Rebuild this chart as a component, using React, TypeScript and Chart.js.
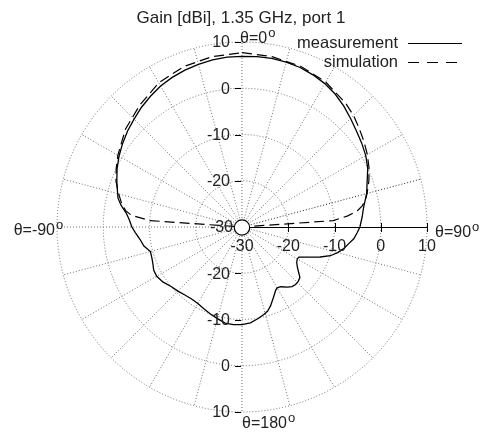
import React, { useEffect, useRef } from "react";
import { Chart, registerables } from "chart.js";

Chart.register(...registerables);

const TITLE = "Gain [dBi], 1.35 GHz, port 1";
const SERIES_NAMES = ["measurement", "simulation"];
const RADIAL_MIN = -30;
const RADIAL_MAX = 10;
const RADIAL_TICKS = [-30, -20, -10, 0, 10];
const ANGLE_LABELS = ["θ=0", "θ=90", "θ=180", "θ=-90"];

// angles in degrees (θ=0 at top, clockwise positive), gains in dBi
const measAngles = [
  0, 5, 10, 15, 20, 25, 30, 35, 40, 45, 50, 55, 60, 65, 70, 75, 78, 81, 85, 90,
  93, 96, 99, 102, 105, 108, 111, 114, 118, 120, 123, 126, 129, 131, 134, 137, 140, 143, 147, 150,
  152, 156, 160, 163, 166, 170, 175, 180,
  -175, -170, -165, -160, -155, -150, -145, -140, -135, -130, -125, -120, -116, -112, -109, -105,
  -101, -97, -93, -90, -86, -83, -80, -77, -73, -70, -65, -60, -55, -50, -45, -40, -35, -30, -25,
  -20, -15, -10, -5,
];
const measGain = [
  6.9, 7.0, 7.0, 6.9, 6.7, 6.3, 5.8, 5.1, 4.2, 3.2, 2.3, 1.6, 0.9, 0.0, -1.2, -2.1, -2.8, -3.4, -3.9, -4.5,
  -5.1, -5.7, -6.7, -7.5, -8.6, -9.9, -11.9, -14.0, -16.1, -16.2, -15.9, -15.2, -14.2, -13.4, -13.1, -13.0, -13.2, -13.7, -14.6, -14.8,
  -14.5, -13.3, -11.9, -11.0, -10.5, -9.9, -9.2, -8.9,
  -8.8, -8.9, -9.5, -10.0, -10.5, -10.9, -11.0, -10.8, -10.4, -10.0, -9.2, -8.7, -8.75, -9.2, -9.4, -9.5,
  -8.4, -7.8, -6.9, -6.2, -5.5, -4.75, -3.5, -2.5, -1.8, -1.2, -0.2, 0.7, 1.5, 2.3, 3.0, 3.8, 4.5, 5.2, 5.7,
  6.1, 6.4, 6.7, 6.85,
];

const simAngles = [
  -87, -86, -84, -82, -79, -75, -70, -65, -60, -50, -40, -30, -20, -10,
  0, 10, 20, 30, 40, 45, 50, 55, 60, 65, 70, 75, 78, 80, 82, 84, 86, 87,
];
const simGain = [
  -30, -10.0, -6.0, -4.6, -3.5, -2.4, -1.0, 0.0, 1.0, 2.9, 4.4, 6.0, 6.9, 7.4,
  7.7, 7.4, 7.0, 6.2, 4.9, 4.1, 3.1, 2.2, 1.3, 0.3, -0.8, -2.0, -2.8, -3.6, -4.8, -7.0, -10.2, -30,
];

const N_ANGLES = 360;
const angleCategories = Array.from({ length: N_ANGLES }, (_, i) => String(i));

function toSeries(angles: number[], gains: number[]) {
  const arr: (number | null)[] = new Array(N_ANGLES).fill(null);
  angles.forEach((a, i) => {
    arr[((a % 360) + 360) % 360] = gains[i];
  });
  return arr;
}

const FONT = '"Liberation Sans", Arial, Helvetica, sans-serif';
const TEXT = "#222";
const GRID = "#6e6e6e";

function supText(ctx: CanvasRenderingContext2D, text: string, x: number, y: number, align: "left" | "right") {
  ctx.font = `16px ${FONT}`;
  const w = ctx.measureText(text).width;
  const x0 = align === "left" ? x : x - w;
  ctx.textAlign = "left";
  ctx.textBaseline = "alphabetic";
  ctx.fillText(text, x0, y);
  ctx.font = `13px ${FONT}`;
  ctx.fillText("o", x0 + w + 1, y - 6.5);
}

const decorPlugin = {
  id: "decor",
  beforeDatasetsDraw(chart: any) {
    const ctx: CanvasRenderingContext2D = chart.ctx;
    const s = chart.scales.r;
    const cx = s.xCenter;
    const cy = s.yCenter;
    ctx.save();
    ctx.strokeStyle = "#000";
    ctx.lineWidth = 1;
    ctx.setLineDash([]);
    const end = s.getPointPositionForValue(90, RADIAL_MAX);
    ctx.beginPath();
    ctx.moveTo(cx, cy + 0.5);
    ctx.lineTo(end.x, cy + 0.5);
    ctx.stroke();
    RADIAL_TICKS.slice(1).forEach((v) => {
      const p = s.getPointPositionForValue(90, v);
      ctx.beginPath();
      ctx.moveTo(Math.round(p.x) + 0.5, cy - 4);
      ctx.lineTo(Math.round(p.x) + 0.5, cy + 5);
      ctx.stroke();
    });
    // vertical axis tick dashes
    RADIAL_TICKS.slice(1).forEach((v) => {
      [0, 180].forEach((idx) => {
        const p = s.getPointPositionForValue(idx, v);
        ctx.beginPath();
        ctx.moveTo(cx - 7, Math.round(p.y) + 0.5);
        ctx.lineTo(cx - 1, Math.round(p.y) + 0.5);
        ctx.stroke();
      });
    });
    ctx.restore();
  },
  afterDraw(chart: any) {
    const ctx: CanvasRenderingContext2D = chart.ctx;
    const s = chart.scales.r;
    const cx = s.xCenter;
    const cy = s.yCenter;
    const R = s.drawingArea;
    ctx.save();
    // centre hole
    ctx.setLineDash([]);
    ctx.beginPath();
    ctx.arc(cx, cy + 0.5, 7.7, 0, Math.PI * 2);
    ctx.fillStyle = "#fff";
    ctx.fill();
    ctx.strokeStyle = "#000";
    ctx.lineWidth = 1.2;
    ctx.stroke();

    ctx.fillStyle = TEXT;
    // title
    ctx.font = `17px ${FONT}`;
    ctx.textAlign = "center";
    ctx.textBaseline = "alphabetic";
    ctx.fillText(TITLE, cx - 1, 23);

    // vertical axis labels
    ctx.font = `16px ${FONT}`;
    ctx.textAlign = "right";
    ctx.textBaseline = "middle";
    RADIAL_TICKS.slice(1).forEach((v) => {
      [0, 180].forEach((idx) => {
        const p = s.getPointPositionForValue(idx, v);
        ctx.fillText(String(v), cx - 12, p.y + 1);
      });
    });
    ctx.fillText(String(RADIAL_MIN), cx - 9, cy + 1);

    // horizontal axis labels
    ctx.textAlign = "center";
    ctx.textBaseline = "alphabetic";
    RADIAL_TICKS.forEach((v) => {
      const p = s.getPointPositionForValue(90, v);
      ctx.fillText(String(v), p.x, cy + 24);
    });

    // angle labels
    supText(ctx, ANGLE_LABELS[0], cx - 2, cy - R + 1, "left");
    supText(ctx, ANGLE_LABELS[1], cx + R + 8, cy + 10, "left");
    supText(ctx, ANGLE_LABELS[2], cx, cy + R + 16, "left");
    supText(ctx, ANGLE_LABELS[3], cx - R - 2, cy + 8, "right");

    // legend
    ctx.font = `16.5px ${FONT}`;
    ctx.textAlign = "right";
    ctx.textBaseline = "alphabetic";
    ctx.fillText(SERIES_NAMES[0], 398, 48);
    ctx.fillText(SERIES_NAMES[1], 398, 66.5);
    ctx.strokeStyle = "#000";
    ctx.lineWidth = 1.2;
    ctx.beginPath();
    ctx.moveTo(408, 43.5);
    ctx.lineTo(462, 43.5);
    ctx.stroke();
    ctx.setLineDash([11, 8]);
    ctx.beginPath();
    ctx.moveTo(408, 62.5);
    ctx.lineTo(462, 62.5);
    ctx.stroke();
    ctx.restore();
  },
};

export default function App() {
  const ref = useRef<HTMLCanvasElement>(null);
  useEffect(() => {
    const chart = new Chart(ref.current as HTMLCanvasElement, {
      type: "radar",
      data: {
        labels: angleCategories,
        datasets: [
          {
            label: SERIES_NAMES[0],
            data: toSeries(measAngles, measGain),
            borderColor: "#000",
            borderWidth: 1.3,
            fill: false,
            pointRadius: 0,
            spanGaps: true,
            tension: 0,
          } as any,
          {
            label: SERIES_NAMES[1],
            data: toSeries(simAngles, simGain),
            borderColor: "#000",
            borderWidth: 1.2,
            borderDash: [10, 5],
            fill: false,
            pointRadius: 0,
            spanGaps: true,
            tension: 0,
          } as any,
        ],
      },
      options: {
        animation: false,
        responsive: false,
        layout: { padding: { left: 57, right: 60, top: 42, bottom: 21 } },
        plugins: {
          legend: { display: false },
          title: { display: false },
          tooltip: { enabled: false },
        },
        scales: {
          r: {
            min: RADIAL_MIN,
            max: RADIAL_MAX,
            ticks: { stepSize: 10, display: false },
            pointLabels: { display: false },
            grid: { circular: true, color: GRID, lineWidth: 1 },
            border: { dash: [1, 2] } as any,
            angleLines: {
              display: true,
              color: (c: any) => (c.index === 75 ? "#222" : GRID),
              lineWidth: (c: any) => (c.index % 15 === 0 && c.index !== 90 ? 1 : 0),
              borderDash: [1, 2],
            } as any,
          },
        },
      } as any,
      plugins: [decorPlugin],
    });
    return () => chart.destroy();
  }, []);
  return (
    <div style={{ position: "absolute", left: 0, top: 0, width: 487, height: 433, background: "#fff" }}>
      <canvas ref={ref} width={487} height={433} style={{ width: 487, height: 433, display: "block" }} />
    </div>
  );
}
